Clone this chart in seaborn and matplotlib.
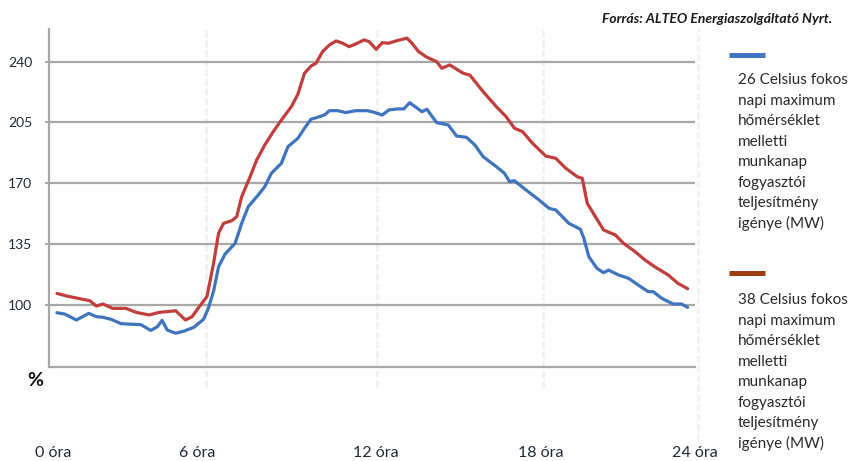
import matplotlib
matplotlib.use("Agg")
import matplotlib.pyplot as plt
import seaborn as sns
import pandas as pd
from matplotlib.lines import Line2D

# ---------------- data ----------------
blue_hours = [0.0, 0.30, 0.74, 1.21, 1.50, 1.74, 2.06, 2.44, 2.82, 3.20, 3.57, 3.82, 4.00,
              4.20, 4.52, 4.83, 5.21, 5.40, 5.58, 5.77, 5.96, 6.15, 6.40, 6.78, 7.03, 7.28,
              7.66, 7.91, 8.16, 8.54, 8.79, 9.17, 9.42, 9.67, 9.92, 10.18, 10.37, 10.68,
              10.99, 11.37, 11.81, 12.06, 12.38, 12.63, 12.94, 13.20, 13.42, 13.63, 13.89,
              14.08, 14.45, 14.89, 15.21, 15.58, 15.90, 16.22, 16.72, 17.03, 17.22, 17.41,
              17.85, 18.35, 18.73, 18.98, 19.48, 19.92, 20.05, 20.24, 20.55, 20.80, 20.99,
              21.37, 21.75, 22.12, 22.50, 22.69, 23.01, 23.45, 23.76, 24.0]
blue_vals = [95.6, 94.8, 91.4, 95.2, 93.3, 93.0, 91.8, 89.3, 89.0, 88.7, 85.4, 87.5, 91.2,
             85.6, 83.8, 85.0, 87.2, 89.6, 91.8, 98.5, 108.0, 122.0, 129.4, 135.5, 147.0,
             156.6, 163.3, 168.1, 175.8, 181.5, 191.1, 195.9, 201.7, 206.9, 208.0, 209.3,
             211.8, 211.8, 210.7, 211.8, 211.8, 210.9, 209.3, 212.2, 212.8, 212.8, 216.4,
             214.1, 211.2, 212.6, 204.9, 203.6, 197.2, 196.5, 192.1, 185.3, 179.6, 175.8,
             171.0, 171.5, 166.2, 160.4, 155.6, 154.7, 147.0, 143.6, 138.4, 127.8, 121.1,
             118.6, 120.1, 117.3, 115.4, 111.5, 107.7, 107.7, 103.9, 100.6, 100.6, 98.7]

red_hours = [0.0, 0.37, 1.25, 1.50, 1.75, 2.12, 2.63, 3.01, 3.51, 3.89, 4.52, 4.89, 5.14,
             5.40, 5.71, 5.96, 6.15, 6.34, 6.65, 6.84, 7.03, 7.35, 7.60, 7.91, 8.23, 8.54,
             8.92, 9.17, 9.42, 9.67, 9.86, 10.11, 10.37, 10.62, 10.87, 11.12, 11.37, 11.69,
             11.88, 12.15, 12.38, 12.63, 12.94, 13.32, 13.51, 13.76, 14.08, 14.45, 14.64,
             14.95, 15.46, 15.71, 16.22, 16.72, 17.09, 17.41, 17.72, 18.10, 18.60, 18.98,
             19.36, 19.80, 19.99, 20.18, 20.49, 20.80, 21.25, 21.56, 22.00, 22.38, 22.75,
             23.26, 23.63, 24.0]
red_vals = [106.7, 105.2, 102.5, 99.4, 100.6, 98.1, 98.1, 95.8, 94.3, 95.8, 96.7, 91.4, 93.3,
            98.7, 104.9, 124.0, 141.3, 147.0, 148.5, 150.8, 162.3, 173.8, 183.4, 192.1,
            199.7, 206.4, 214.1, 221.3, 233.3, 237.5, 239.1, 245.8, 249.6, 251.9, 250.6,
            248.6, 250.2, 252.5, 251.5, 247.1, 250.9, 250.6, 252.1, 253.5, 250.6, 245.8,
            242.5, 240.0, 236.2, 238.1, 233.3, 232.3, 222.7, 214.1, 208.4, 201.7, 199.7,
            193.0, 185.7, 184.4, 178.7, 173.8, 172.9, 158.5, 150.8, 143.2, 140.3, 135.5,
            130.7, 125.9, 122.0, 117.3, 112.5, 109.4]

series_labels = [
    "26 Celsius fokos\nnapi maximum\nhőmérséklet\nmelletti\nmunkanap\nfogyasztói\nteljesítmény\nigénye (MW)",
    "38 Celsius fokos\nnapi maximum\nhőmérséklet\nmelletti\nmunkanap\nfogyasztói\nteljesítmény\nigénye (MW)",
]
y_ticks = [100, 135, 170, 205, 240]
x_tick_labels = ["0 óra", "6 óra", "12 óra", "18 óra", "24 óra"]
x_tick_pos = [-0.15, 5.35, 12.13, 18.40, 24.28]
x_grid_pos = [5.66, 12.19, 18.49, 24.38]
source_text = "Forrás: ALTEO Energiaszolgáltató Nyrt."

# ---------------- style ----------------
sns.set_theme(style="white")
plt.rcParams["font.family"] = ["Lato", "DejaVu Sans"]

W, H = 852, 461
fig = plt.figure(figsize=(W / 100, H / 100), dpi=100)
fig.patch.set_facecolor("white")

ax_l, ax_r, ax_t, ax_b = 49, 695, 29.3, 367.3
ax = fig.add_axes([ax_l / W, 1 - ax_b / H, (ax_r - ax_l) / W, (ax_b - ax_t) / H])
ax.set_facecolor("white")

line_colors = ["#3F74BF", "#C23E3C"]
legend_colors = ["#4472C4", "#9E3D10"]

df = pd.concat([
    pd.DataFrame({"hour": blue_hours, "value": blue_vals, "series": series_labels[0]}),
    pd.DataFrame({"hour": red_hours, "value": red_vals, "series": series_labels[1]}),
])

grid_color = "#A8A8A8"
for yv in y_ticks:
    ax.axhline(yv, color=grid_color, lw=1.6, zorder=1)

for xv in x_grid_pos:
    ymin = -0.058 if xv < 24 else -0.215
    ax.axvline(xv, ymin=ymin, ymax=1.0, color="#F1F1F1", lw=2.0,
               linestyle=(0, (2.5, 1.0)), clip_on=False, zorder=0)

sns.lineplot(data=df, x="hour", y="value", hue="series", palette=line_colors,
             hue_order=series_labels, lw=2.3, legend=False, ax=ax, zorder=3,
             estimator=None, sort=False)

ax.set_xlim(-0.302, 24.075)
ax.set_ylim(64.2, 258.6)
ax.set_xlabel("")
ax.set_ylabel("")

for side in ["top", "right"]:
    ax.spines[side].set_visible(False)
for side in ["left", "bottom"]:
    ax.spines[side].set_visible(True)
    ax.spines[side].set_color(grid_color)
    ax.spines[side].set_linewidth(1.6)

txt_color = "#222a38"
ax.set_yticks(y_ticks)
ax.set_yticklabels([str(v) for v in y_ticks], fontsize=10, color=txt_color)
ax.tick_params(axis="y", length=3, width=1.4, color=grid_color, pad=9, left=True)

ax.set_xticks(x_tick_pos)
ax.set_xticklabels(x_tick_labels, fontsize=11.5, color=txt_color)
ax.tick_params(axis="x", length=0, pad=57)

# "%" label
fig.text(35 / W, 1 - 380 / H, "%", fontsize=14, fontweight="bold", color="#111111",
         ha="center", va="center")

# source
fig.text(832 / W, 1 - 19 / H, source_text, fontsize=10, fontweight="bold",
         fontstyle="italic", color="#1a1a1a", ha="right", va="center")

# custom legend
legend_line_y = [55, 273]
legend_text_y0 = [80, 300]
line_step = 20.5
for i in range(2):
    y = 1 - legend_line_y[i] / H
    fig.add_artist(Line2D([729 / W, 765 / W], [y, y], color=legend_colors[i], lw=3.6,
                          solid_capstyle="butt"))
    for j, part in enumerate(series_labels[i].split("\n")):
        fig.text(738 / W, 1 - (legend_text_y0[i] + j * line_step) / H, part,
                 fontsize=11, color="#2a2a2a", ha="left", va="center")

fig.savefig("out.png", dpi=100, facecolor="white")
